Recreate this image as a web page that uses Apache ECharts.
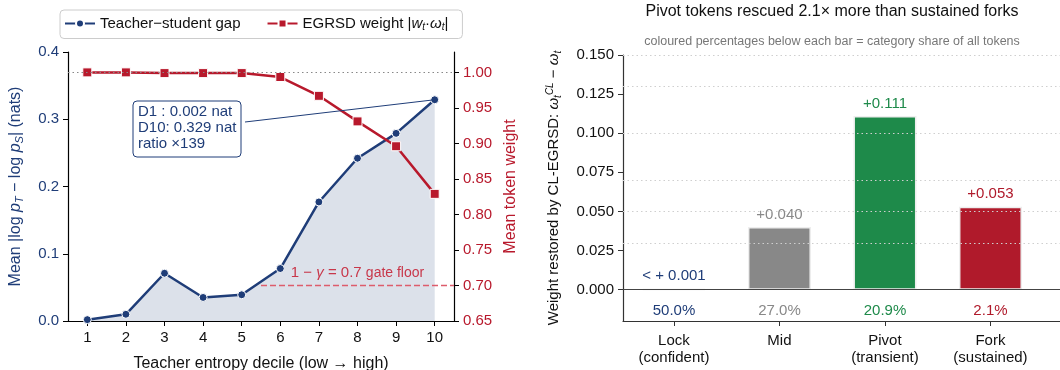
<!DOCTYPE html>
<html>
<head>
<meta charset="utf-8">
<script src="https://cdn.jsdelivr.net/npm/echarts@6/dist/echarts.min.js"></script>
<style>
  html, body { margin: 0; padding: 0; background: #fff; }
  #chart { width: 1060px; height: 370px; }
</style>
</head>
<body>
<div id="chart"></div>
<script>
// left panel - per teacher-entropy decile
var deciles = [1, 2, 3, 4, 5, 6, 7, 8, 9, 10];
var gapNats = [0.002, 0.010, 0.071, 0.035, 0.039, 0.078, 0.177, 0.242, 0.279, 0.329];
var egrsdWeight = [1.000, 1.000, 0.999, 0.999, 0.999, 0.9935, 0.967, 0.931, 0.896, 0.829];
var weightTicks = [0.65, 0.70, 0.75, 0.80, 0.85, 0.90, 0.95, 1.00];
var gateFloor = 0.70;
var gateFrom = 5.5;
var noteLines = ['D1 : 0.002 nat', 'D10: 0.329 nat', 'ratio \u00d7139'];

// right panel - weight restored per token category
var catPos = [0, 1, 2, 3];
var catNames = ['Lock\n(confident)', 'Mid', 'Pivot\n(transient)', 'Fork\n(sustained)'];
var restored = [0.0004, 0.040, 0.111, 0.053];
var restoredText = ['< + 0.001', '+0.040', '+0.111', '+0.053'];
var shareText = ['50.0%', '27.0%', '20.9%', '2.1%'];
var restoredTicks = [0, 0.025, 0.050, 0.075, 0.100, 0.125, 0.150];
var gridVals = [0.025, 0.050, 0.075, 0.100, 0.125, 0.150];

var NAVY = '#1f3d78', RED = '#b8192c', GATE = '#dd5d6c';
var catColors = [NAVY, '#888888', '#1e8a4a', '#b01a2b'];
var FONT = 'Liberation Sans';

var chart = echarts.init(document.getElementById('chart'));

var subRich = {
  i: { fontStyle: 'italic', fontSize: 15, fontFamily: FONT },
  s: { fontStyle: 'italic', fontSize: 10, padding: [8, 0, 0, 0], fontFamily: FONT },
  p: { fontStyle: 'italic', fontSize: 10, padding: [0, 0, 8, 0], fontFamily: FONT }
};

var option = {
  animation: false,
  textStyle: { fontFamily: FONT },
  legend: {
    left: 60, top: 10,
    padding: [6, 14, 6, 4],
    borderColor: '#cccccc', borderWidth: 1, borderRadius: 4,
    itemWidth: 30, itemHeight: 10, itemGap: 26,
    textStyle: { fontSize: 15, color: '#111', rich: subRich },
    data: ['Teacher\u2212student gap', 'EGRSD weight'],
    formatter: function (n) {
      if (n === 'EGRSD weight') return 'EGRSD weight |{i|w}{s|t}\u00b7{i|\u03c9}{s|t}|';
      return n;
    }
  },
  grid: [
    { left: 68, top: 52, width: 386, height: 269, outerBoundsMode: 'none' },
    { left: 623, top: 55, width: 443, height: 266, outerBoundsMode: 'none' }
  ],
  xAxis: [
    {
      gridIndex: 0, type: 'value', min: 0.5, max: 10.5,
      axisLine: { onZero: false, lineStyle: { color: '#000', width: 1.2 } },
      axisTick: { customValues: deciles, length: 5, lineStyle: { color: '#000' } },
      axisLabel: { customValues: deciles, color: '#111', fontSize: 15, margin: 9 },
      splitLine: { show: false },
      name: 'Teacher entropy decile (low \u2192 high)', nameLocation: 'middle', nameGap: 35,
      nameTextStyle: { fontSize: 16, color: '#111' }
    },
    {
      gridIndex: 1, type: 'value', min: -0.483, max: 3.716,
      axisLine: { onZero: false, lineStyle: { color: '#333', width: 1.2 } },
      axisTick: { customValues: catPos, length: 5, lineStyle: { color: '#333' } },
      axisLabel: {
        customValues: catPos, color: '#111', fontSize: 15, lineHeight: 17, margin: 11,
        formatter: function (v) { return catNames[Math.round(v)]; }
      },
      splitLine: { show: false }
    },
    {
      gridIndex: 1, type: 'value', min: -0.483, max: 3.716, position: 'bottom',
      axisLine: { show: false }, axisTick: { show: false }, splitLine: { show: false },
      axisLabel: {
        customValues: catPos, inside: true, margin: 3, fontSize: 15,
        formatter: function (v) { var k = Math.round(v); return '{c' + k + '|' + shareText[k] + '}'; },
        rich: {
          c0: { color: catColors[0], fontSize: 15 },
          c1: { color: catColors[1], fontSize: 15 },
          c2: { color: catColors[2], fontSize: 15 },
          c3: { color: catColors[3], fontSize: 15 }
        }
      }
    }
  ],
  yAxis: [
    {
      gridIndex: 0, type: 'value', min: 0, max: 0.4, interval: 0.1,
      axisLine: { show: true, onZero: false, lineStyle: { color: '#000', width: 1.2 } },
      axisTick: { show: true, length: 5, lineStyle: { color: '#000' } },
      axisLabel: { color: NAVY, fontSize: 15, margin: 9, formatter: function (v) { return v.toFixed(1); } },
      splitLine: { show: false },
      name: 'Mean |log {i|p}{s|T} \u2212 log {i|p}{s|S}| (nats)', nameLocation: 'middle', nameGap: 43, nameRotate: 90,
      nameTextStyle: { fontSize: 16, color: NAVY, rich: {
        i: { fontStyle: 'italic', fontSize: 16, color: NAVY },
        s: { fontStyle: 'italic', fontSize: 11, color: NAVY, padding: [8, 0, 0, 0] }
      } }
    },
    {
      gridIndex: 0, type: 'value', position: 'right', min: 0.65, max: 1.0287,
      axisLine: { show: true, onZero: false, lineStyle: { color: '#000', width: 1.2 } },
      axisTick: { show: true, customValues: weightTicks, length: 5, lineStyle: { color: '#000' } },
      axisLabel: { customValues: weightTicks, color: RED, fontSize: 15, margin: 9, formatter: function (v) { return v.toFixed(2); } },
      splitLine: { show: false },
      name: 'Mean token weight', nameLocation: 'middle', nameGap: 49, nameRotate: 90,
      nameTextStyle: { fontSize: 16, color: RED }
    },
    {
      gridIndex: 1, type: 'value', min: -0.02, max: 0.15,
      axisLine: { show: true, onZero: false, lineStyle: { color: '#333', width: 1.2 } },
      axisTick: { show: true, customValues: restoredTicks, length: 5, lineStyle: { color: '#333' } },
      axisLabel: { customValues: restoredTicks, color: '#111', fontSize: 15, margin: 9, formatter: function (v) { return v.toFixed(3); } },
      splitLine: { show: false },
      name: 'Weight restored by CL-EGRSD: {i|\u03c9}{s|t}{p|CL} \u2212 {i|\u03c9}{s|t}', nameLocation: 'middle', nameGap: 60, nameRotate: 90,
      nameTextStyle: { fontSize: 15, color: '#111', rich: subRich }
    }
  ],
  series: [
    {
      name: 'ref-1', type: 'line', xAxisIndex: 0, yAxisIndex: 1, data: [], z: 1,
      markLine: {
        silent: true, symbol: 'none', animation: false, label: { show: false },
        lineStyle: { color: '#888', type: [1.5, 3], width: 1 },
        data: [{ yAxis: 1.0 }]
      }
    },
    {
      name: 'Teacher\u2212student gap', type: 'line', xAxisIndex: 0, yAxisIndex: 0,
      data: deciles.map(function (d, i) { return [d, gapNats[i]]; }),
      color: NAVY, symbol: 'circle', symbolSize: 8,
      lineStyle: { width: 2.5, color: NAVY },
      itemStyle: { color: NAVY, borderColor: '#fff', borderWidth: 1 },
      areaStyle: { color: '#dce1ea', opacity: 1 },
      z: 2
    },
    {
      name: 'EGRSD weight', type: 'line', xAxisIndex: 0, yAxisIndex: 1,
      data: deciles.map(function (d, i) { return [d, egrsdWeight[i]]; }),
      color: RED, symbol: 'rect', symbolSize: 9,
      lineStyle: { width: 2.5, color: RED },
      itemStyle: { color: RED, borderColor: '#fff', borderWidth: 1 },
      z: 3,
      markLine: {
        silent: true, symbol: 'none', animation: false,
        lineStyle: { color: GATE, type: [6, 3], width: 1.3, opacity: 1 },
        label: { show: true, position: 'insideMiddleTop', distance: 5, color: '#c8374a', fontSize: 15,
          formatter: '1 \u2212 {g|\u03b3} = 0.7 {t|gate floor}',
          rich: { g: { fontStyle: 'italic', fontSize: 15, color: '#c8374a' }, t: { fontSize: 14, color: '#c8374a' } } },
        data: [[
          { coord: [gateFrom, gateFloor], lineStyle: { color: GATE } },
          { coord: [10.5, gateFloor], lineStyle: { color: GATE } }
        ]]
      }
    },
    {
      name: 'grid-lines', type: 'line', xAxisIndex: 1, yAxisIndex: 2, data: [], z: 1,
      markLine: {
        silent: true, symbol: 'none', animation: false, label: { show: false },
        data: gridVals.map(function (v) {
          return { yAxis: v, lineStyle: { color: '#cfcfcf', type: [1.5, 3], width: 1 } };
        }).concat([{ yAxis: 0, lineStyle: { color: '#444', type: 'solid', width: 1.2 } }])
      }
    },
    {
      name: 'restored', type: 'bar', xAxisIndex: 1, yAxisIndex: 2, barWidth: 63, z: 3,
      data: catPos.map(function (p, i) {
        return {
          value: [p, restored[i]],
          itemStyle: { color: catColors[i], borderColor: '#eeeeee', borderWidth: 1.5 },
          label: { color: catColors[i] }
        };
      }),
      label: {
        show: true, position: 'top', distance: 5, fontSize: 15,
        formatter: function (p) { return restoredText[p.dataIndex]; }
      }
    }
  ]
};

chart.setOption(option);

// annotation + right-panel titles
var tip = chart.convertToPixel({ xAxisIndex: 0, yAxisIndex: 0 }, [deciles[9], gapNats[9]]);
chart.setOption({
  graphic: [
    { type: 'line', z: 10, shape: { x1: 245, y1: 122, x2: tip[0], y2: tip[1] }, style: { stroke: NAVY, lineWidth: 1 } },
    { type: 'rect', z: 10, shape: { x: 133, y: 101, width: 108, height: 56, r: 4 }, style: { fill: '#fff', stroke: NAVY, lineWidth: 1 } },
    { type: 'text', z: 11, x: 138, y: 104, style: { text: noteLines.join('\n'), fill: NAVY, font: '15px "Liberation Sans"', lineHeight: 16 } },
    { type: 'text', z: 11, x: 832, y: 4, style: { text: 'Pivot tokens rescued 2.1\u00d7 more than sustained forks', fill: '#111', font: '16px "Liberation Sans"', textAlign: 'center' } },
    { type: 'text', z: 11, x: 832, y: 35, style: { text: 'coloured percentages below each bar = category share of all tokens', fill: '#777', font: '12.5px "Liberation Sans"', textAlign: 'center' } }
  ]
});
</script>
</body>
</html>
